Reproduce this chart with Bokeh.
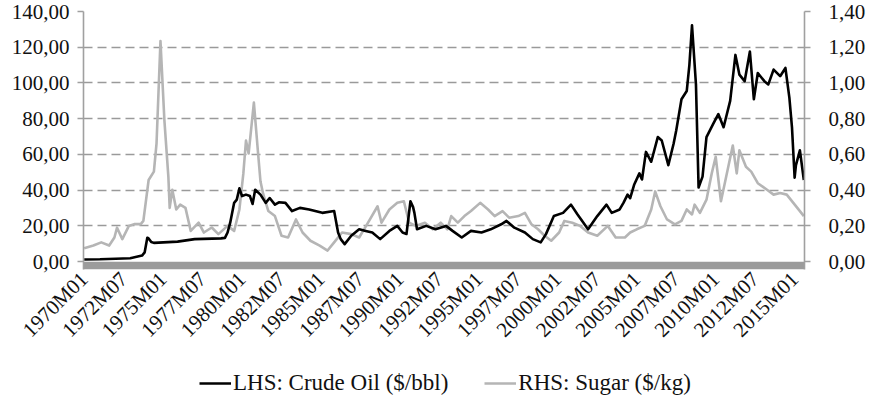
import math
from bokeh.plotting import figure
from bokeh.layouts import column
from bokeh.models import (Range1d, LinearAxis, FixedTicker, CustomJSTickFormatter,
                          BoxAnnotation, Legend, LegendItem, ColumnDataSource)
from bokeh.embed import file_html
from bokeh.resources import INLINE

# ---------------- data ----------------
tick_labels = ["1970M01", "1972M07", "1975M01", "1977M07", "1980M01", "1982M07",
               "1985M01", "1987M07", "1990M01", "1992M07", "1995M01", "1997M07",
               "2000M01", "2002M07", "2005M01", "2007M07", "2010M01", "2012M07",
               "2015M01"]
first_month = "1970M01"
last_month = "2015M08"

oil_dates = ["1970M01", "1971M01", "1972M01", "1972M12", "1973M09", "1973M11", "1974M01",
             "1974M02", "1974M04", "1974M06", "1975M12", "1977M01", "1978M09", "1978M12",
             "1979M02", "1979M04", "1979M07", "1979M09", "1979M11", "1980M01", "1980M04",
             "1980M07", "1980M09", "1980M11", "1981M03", "1981M07", "1981M10", "1982M02",
             "1982M05", "1982M10", "1983M03", "1983M09", "1984M04", "1985M02", "1985M11",
             "1986M02", "1986M04", "1986M07", "1986M12", "1987M06", "1987M11", "1988M04",
             "1988M10", "1989M05", "1989M11", "1990M03", "1990M06", "1990M09", "1990M11",
             "1990M12", "1991M02", "1991M09", "1992M04", "1992M12", "1993M05", "1993M12",
             "1994M07", "1995M03", "1995M10", "1996M06", "1996M10", "1997M04", "1997M12",
             "1998M06", "1998M12", "1999M04", "1999M10", "2000M05", "2000M11", "2001M04",
             "2001M12", "2002M07", "2003M02", "2003M06", "2003M12", "2004M03", "2004M06",
             "2004M08", "2004M11", "2005M03", "2005M05", "2005M08", "2005M12", "2006M05",
             "2006M08", "2007M01", "2007M05", "2007M07", "2007M11", "2008M03", "2008M05",
             "2008M07", "2008M10", "2008M12", "2009M03", "2009M06", "2009M11", "2010M03",
             "2010M07", "2010M12", "2011M04", "2011M07", "2011M11", "2012M03", "2012M06",
             "2012M09", "2013M02", "2013M05", "2013M09", "2014M02", "2014M06", "2014M09",
             "2014M11", "2015M01", "2015M02", "2015M05", "2015M08"]
oil_values = [1.2, 1.3, 1.6, 1.9, 3.4, 5.2, 13.4,
              13.0, 11.0, 10.5, 11.2, 12.6, 13.0, 13.3,
              16.3, 21.8, 32.9, 34.7, 41.0, 36.7, 37.5,
              36.7, 32.3, 40.2, 37.5, 32.9, 35.6, 31.9,
              33.2, 32.9, 28.3, 30.1, 29.2, 27.3, 28.3,
              16.3, 12.6, 9.8, 14.5, 18.1, 17.2, 16.3,
              12.6, 17.2, 20.0, 16.3, 15.5, 33.8, 30.5,
              27.3, 18.1, 20.0, 18.1, 20.0, 17.2, 13.5,
              17.2, 16.3, 18.1, 20.9, 22.8, 19.0, 16.3,
              12.6, 10.8, 15.4, 25.5, 27.3, 31.9, 26.4,
              18.1, 25.5, 31.9, 27.3, 29.2, 33.0, 37.5,
              35.5, 43.0, 49.4, 46.0, 61.4, 55.9, 69.7,
              67.8, 54.0, 66.0, 73.4, 90.9, 95.5, 110.0,
              132.3, 99.2, 41.5, 47.6, 69.7, 77.0, 82.6,
              75.2, 90.0, 115.7, 104.7, 101.0, 117.6, 90.9,
              105.6, 101.0, 99.2, 107.5, 103.8, 108.4, 91.8,
              75.0, 47.0, 54.0, 62.3, 45.7]

sugar_dates = ["1970M01", "1970M08", "1971M02", "1971M08", "1971M12", "1972M02", "1972M06",
               "1972M11", "1973M03", "1973M08", "1973M10", "1974M02", "1974M06", "1974M08",
               "1974M11", "1975M02", "1975M05", "1975M06", "1975M08", "1975M11", "1976M02",
               "1976M06", "1976M10", "1977M04", "1977M08", "1978M02", "1978M07", "1979M02",
               "1979M07", "1979M11", "1980M02", "1980M04", "1980M06", "1980M10", "1981M01",
               "1981M03", "1981M05", "1981M09", "1982M02", "1982M07", "1982M12", "1983M06",
               "1983M11", "1984M05", "1984M12", "1985M06", "1985M11", "1986M05", "1986M12",
               "1987M06", "1987M12", "1988M08", "1988M11", "1989M05", "1989M11", "1990M04",
               "1990M08", "1991M01", "1991M08", "1992M02", "1992M08", "1993M01", "1993M04",
               "1993M09", "1994M02", "1994M07", "1995M02", "1995M08", "1996M01", "1996M07",
               "1996M12", "1997M07", "1997M12", "1998M05", "1998M10", "1999M03", "1999M08",
               "2000M02", "2000M06", "2000M12", "2001M06", "2001M12", "2002M07", "2003M03",
               "2003M09", "2004M04", "2004M08", "2005M01", "2005M07", "2005M12", "2006M03",
               "2006M07", "2006M12", "2007M06", "2007M11", "2008M03", "2008M07", "2008M09",
               "2009M01", "2009M06", "2009M10", "2010M01", "2010M05", "2010M09", "2011M02",
               "2011M05", "2011M07", "2011M12", "2012M04", "2012M09", "2013M04", "2013M09",
               "2014M02", "2014M07", "2014M12", "2015M05", "2015M08"]
sugar_values = [0.075, 0.09, 0.108, 0.09, 0.135, 0.19, 0.126,
                0.20, 0.21, 0.21, 0.228, 0.457, 0.504, 0.66,
                1.235, 0.789, 0.476, 0.301, 0.402, 0.292, 0.319,
                0.301, 0.172, 0.218, 0.163, 0.191, 0.154, 0.20,
                0.172, 0.292, 0.494, 0.678, 0.605, 0.89, 0.623,
                0.45, 0.38, 0.283, 0.255, 0.145, 0.135, 0.236,
                0.163, 0.117, 0.09, 0.062, 0.108, 0.163, 0.154,
                0.135, 0.209, 0.31, 0.218, 0.292, 0.329, 0.338,
                0.218, 0.20, 0.218, 0.181, 0.218, 0.181, 0.255,
                0.218, 0.255, 0.283, 0.329, 0.292, 0.255, 0.283,
                0.246, 0.255, 0.273, 0.209, 0.181, 0.145, 0.117,
                0.163, 0.228, 0.218, 0.20, 0.163, 0.145, 0.20,
                0.135, 0.135, 0.163, 0.181, 0.20, 0.292, 0.393,
                0.31, 0.236, 0.209, 0.228, 0.292, 0.264, 0.319,
                0.273, 0.347, 0.494, 0.587, 0.338, 0.476, 0.65,
                0.494, 0.623, 0.531, 0.504, 0.439, 0.402, 0.375,
                0.384, 0.375, 0.329, 0.283, 0.255]

lhs_ticks = [0, 20, 40, 60, 80, 100, 120, 140]
rhs_ticks = [0.0, 0.2, 0.4, 0.6, 0.8, 1.0, 1.2, 1.4]

oil_label = "LHS: Crude Oil ($/bbl)"
sugar_label = "RHS: Sugar ($/kg)"


def month_index(s):
    y, m = s.split("M")
    return (int(y) - 1970) * 12 + int(m) - 1


FONT = "Liberation Serif"
FS = "21px"
LEG_FS = "23px"
GRAY_AXIS = "#a0a0a0"
OIL_COLOR = "#000000"
SUGAR_COLOR = "#b5b5b5"
LINE_W = 2.6

n_months = month_index(last_month) - month_index(first_month) + 1

p = figure(frame_width=721, frame_height=258, output_backend="svg", toolbar_location=None,
           x_range=Range1d(-0.5, n_months - 0.5),
           y_range=Range1d(-4.4, 140),
           min_border_left=83, min_border_right=10, min_border_top=11,
           min_border_bottom=85)
p.extra_y_ranges = {"sugar": Range1d(-0.044, 1.4)}
p.outline_line_color = None
p.background_fill_color = "white"
p.border_fill_color = "white"

# grey category-axis band
p.add_layout(BoxAnnotation(top=0, fill_color="#9b9b9b", fill_alpha=1.0,
                           line_color=None, level="underlay"))

src_oil = ColumnDataSource(dict(x=[month_index(d) for d in oil_dates], y=oil_values))
src_sug = ColumnDataSource(dict(x=[month_index(d) for d in sugar_dates], y=sugar_values))

p.line("x", "y", source=src_sug, line_color=SUGAR_COLOR, line_width=LINE_W,
       y_range_name="sugar", line_join="round")
p.line("x", "y", source=src_oil, line_color=OIL_COLOR, line_width=LINE_W,
       line_join="round")

# grid
p.xgrid.visible = False
p.ygrid.ticker = FixedTicker(ticks=lhs_ticks[1:])
p.ygrid.grid_line_color = "#9a9a9a"
p.ygrid.grid_line_dash = "9 5"
p.ygrid.grid_line_width = 1.6

comma_fmt = CustomJSTickFormatter(code="return tick.toFixed(2).replace('.', ',');")


def style_y(ax, standoff):
    ax.axis_line_color = GRAY_AXIS
    ax.axis_line_width = 1.6
    ax.major_tick_line_color = GRAY_AXIS
    ax.major_tick_line_width = 1.6
    ax.major_tick_out = 6
    ax.major_tick_in = 0
    ax.minor_tick_line_color = None
    ax.major_label_standoff = standoff
    ax.major_label_text_font = FONT
    ax.major_label_text_font_size = FS
    ax.major_label_text_color = "#111111"


ya = p.yaxis[0]
ya.ticker = FixedTicker(ticks=lhs_ticks)
ya.formatter = comma_fmt
style_y(ya, 8)

ra = LinearAxis(y_range_name="sugar", ticker=FixedTicker(ticks=rhs_ticks),
                formatter=comma_fmt)
style_y(ra, 18)
p.add_layout(ra, "right")

# x axis
xa = p.xaxis[0]
tick_pos = [month_index(t) for t in tick_labels]
xa.ticker = FixedTicker(ticks=tick_pos)
xa.major_label_overrides = {tp: lab for tp, lab in zip(tick_pos, tick_labels)}
xa.major_label_orientation = math.pi / 4
xa.major_label_text_baseline = "top"
xa.axis_line_color = None
xa.major_tick_line_color = None
xa.minor_tick_line_color = None
xa.major_label_standoff = 0
xa.major_label_text_font = FONT
xa.major_label_text_font_size = FS
xa.major_label_text_color = "#111111"

# ---------------- legend strip (separate figure, no axes) ----------------
# Its view ranges lie outside every data value, so only the legend is visible.
leg_fig = figure(width=866, height=42, output_backend="svg", toolbar_location=None,
                 min_border=0, x_axis_location=None, y_axis_location=None,
                 x_range=Range1d(-3, -2), y_range=Range1d(-3, -2))
leg_fig.grid.visible = False
leg_fig.outline_line_color = None
leg_fig.background_fill_color = "white"
leg_fig.border_fill_color = "white"
l_oil = leg_fig.line("x", "y", source=src_oil, line_color=OIL_COLOR, line_width=LINE_W)
l_sug = leg_fig.line("x", "y", source=src_sug, line_color=SUGAR_COLOR, line_width=LINE_W)
legend = Legend(items=[LegendItem(label=oil_label, renderers=[l_oil]),
                       LegendItem(label=sugar_label, renderers=[l_sug])],
                orientation="horizontal", location=(116, 0),
                label_text_font=FONT, label_text_font_size=LEG_FS,
                label_text_color="#111111",
                glyph_width=32, glyph_height=20, label_standoff=2, spacing=36,
                border_line_color=None, background_fill_alpha=0,
                margin=0, padding=0)
leg_fig.add_layout(legend)

layout = column(p, leg_fig, spacing=0)
open("out.html", "w").write(file_html(layout, INLINE))
